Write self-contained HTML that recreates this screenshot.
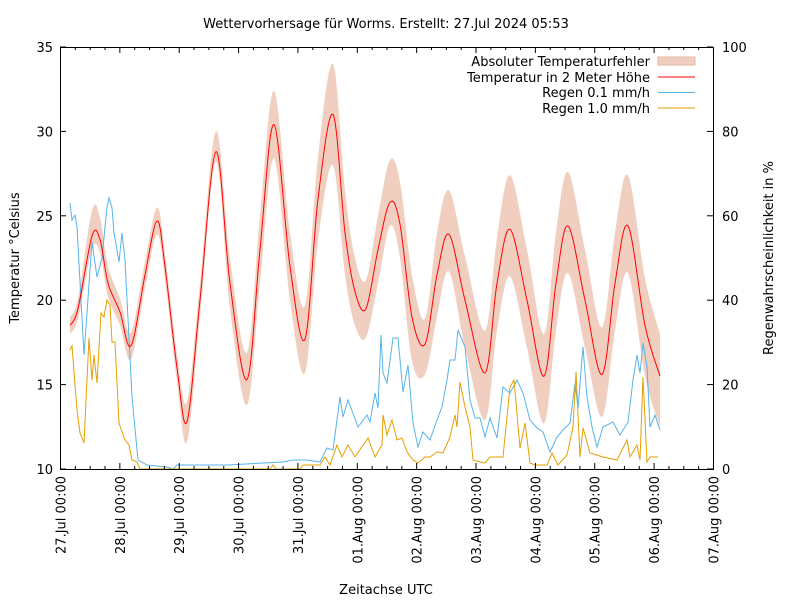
<!DOCTYPE html>
<html><head><meta charset="utf-8"><style>
body{margin:0;background:#fff}
svg{display:block;font-family:"DejaVu Sans","Liberation Sans",sans-serif;font-size:13px}
</style></head><body>
<svg id="s" width="800" height="600" xmlns="http://www.w3.org/2000/svg">
<rect width="800" height="600" fill="#fff"/>
<path id="band" fill="#f0cfc0" stroke="none"/>
<polyline fill="none" stroke="#56b4e9" stroke-width="1" points="70,203 72,220 75,215 77,227 84,355 92,242 97,277 102,258 107,207 109,198 112,208 114,233 119,262 122,233 125,260 132,397 138,460 147,465 167,467 173,469 177,465 227,465 283,462 293,460 307,460 320,462 327,448 333,450 340,397 343,417 348,400 358,427 367,415 370,422 375,393 378,408 381,335 383,373 387,383 393,338 398,338 403,392 408,365 413,423 418,447 423,432 430,440 437,420 442,407 447,380 450,360 455,360 458,330 465,347 470,400 475,418 480,418 485,437 490,418 497,438 503,387 510,393 517,380 523,393 530,420 537,428 543,432 550,452 557,437 563,430 570,423 575,383 578,408 583,347 587,397 592,427 597,447 603,427 613,422 620,435 628,422 633,380 637,355 640,373 643,343 647,367 650,427 655,415 660,430"/>
<polyline fill="none" stroke="#e69f00" stroke-width="1" points="70,350 72,346 77,410 80,433 84,443 89,338 92,380 94,355 97,383 101,313 104,317 107,300 110,305 112,342 115,342 119,423 125,440 129,445 132,460 137,462 140,469 270,469 273,465 276,469 300,469 303,465 320,465 325,457 330,465 337,445 342,457 348,445 355,457 368,438 375,457 382,445 383,415 387,435 392,420 397,440 402,438 407,452 413,460 418,463 425,457 430,457 437,452 443,453 450,437 455,415 457,427 460,382 465,407 470,427 473,460 480,462 485,463 490,457 503,457 510,387 514,380 520,448 525,423 530,463 535,465 547,465 552,453 558,465 567,455 573,427 576,372 580,457 583,428 590,453 603,457 617,460 627,440 630,457 637,445 640,460 643,377 647,462 650,457 658,457"/>
<path id="temp" fill="none" stroke="#ff0000" stroke-width="1"/>
<rect x="60.5" y="47.5" width="653" height="422" fill="none" stroke="#000"/>
<g id="ticks" stroke="#000"></g>
<g id="lbl" fill="#000"></g>
<text x="386" y="28" text-anchor="middle">Wettervorhersage für Worms. Erstellt: 27.Jul 2024 05:53</text>
<text transform="translate(19,258) rotate(-90)" text-anchor="middle">Temperatur °Celsius</text>
<text transform="translate(773,258) rotate(-90)" text-anchor="middle">Regenwahrscheinlichkeit in %</text>
<text x="386" y="594" text-anchor="middle">Zeitachse UTC</text>
<g text-anchor="end">
<text x="650" y="66">Absoluter Temperaturfehler</text>
<text x="650" y="82">Temperatur in 2 Meter Höhe</text>
<text x="650" y="97">Regen 0.1 mm/h</text>
<text x="650" y="113">Regen 1.0 mm/h</text>
</g>
<rect x="658" y="57" width="37" height="8" fill="#f0cfc0" stroke="#e0b8a4"/>
<line x1="658" y1="77" x2="695" y2="77" stroke="#f00"/>
<line x1="658" y1="92.5" x2="695" y2="92.5" stroke="#56b4e9"/>
<line x1="658" y1="108" x2="695" y2="108" stroke="#e69f00"/>
</svg>
<script>
var Y=function(t){return 469-(t-10)*16.88;};
var K=[[70,18.5,.5,.5],[78,19.5,.6,.6],[92,23.8,1.5,.8],[100,23.6,1.3,.8],[108,21,1,.8],[120,19.3,.8,.8],[131,17.3,.8,.8],[145,21.5,.8,.8],[157,24.7,.8,.8],[165,22,.8,.8],[177,16,.8,.8],[187,12.8,1.2,1.2],[200,20,1,1],[216,28.8,1.2,.6],[230,21,1.5,1.5],[247,15.3,1.6,1.5],[260,23,2,2],[274,30.4,2,2],[290,22,2,2],[305,17.7,2,2],[318,26,2.5,2.5],[333,31,3,3],[345,24,2.5,2.5],[355,20.5,2,2],[366,19.5,1.7,1.7],[378,23,2,2],[390,25.8,2.5,1.4],[400,24.5,2.5,2],[412,19,2.5,2.6],[425,17.4,1.5,1.8],[437,21.5,2.5,2.5],[449,23.9,2.6,2.2],[465,20,2.6,2.8],[485,15.7,2.5,2.8],[497,21,2.7,2.8],[510,24.2,3.2,2.8],[527,20,3,2.8],[544,15.5,2.5,2.8],[556,21,3,2.8],[568,24.4,3.2,2.8],[585,20,3,2.8],[602,15.6,2.8,2.5],[615,21,3,2.8],[628,24.4,3,2.8],[645,18.5,2.8,3],[660,15.5,2.5,3]];
function smooth(pts){var d="M"+pts[0][0]+","+pts[0][1];for(var i=0;i<pts.length-1;i++){var p0=pts[i-1]||pts[i],p1=pts[i],p2=pts[i+1],p3=pts[i+2]||p2;d+=" C"+(p1[0]+(p2[0]-p0[0])/6).toFixed(1)+","+(p1[1]+(p2[1]-p0[1])/6).toFixed(1)+" "+(p2[0]-(p3[0]-p1[0])/6).toFixed(1)+","+(p2[1]-(p3[1]-p1[1])/6).toFixed(1)+" "+p2[0]+","+p2[1].toFixed(1);}return d;}
var tp=K.map(function(k){return [k[0],Y(k[1])]});
document.getElementById("temp").setAttribute("d",smooth(tp));
var up=K.map(function(k){return [k[0],Y(k[1]+k[2])]});
var lo=K.map(function(k){return [k[0],Y(k[1]-k[3])]}).reverse();
var dl=smooth(lo).replace(/^M/,"L");
document.getElementById("band").setAttribute("d",smooth(up)+" "+dl+" Z");
var ns="http://www.w3.org/2000/svg",T=document.getElementById("ticks"),L=document.getElementById("lbl");
function ln(a,b,c,d){var e=document.createElementNS(ns,"line");e.setAttribute("x1",a);e.setAttribute("y1",b);e.setAttribute("x2",c);e.setAttribute("y2",d);T.appendChild(e);}
function tx(x,y,s,anc,rot){var e=document.createElementNS(ns,"text");if(rot){e.setAttribute("transform","translate("+x+","+y+") rotate(-90)");}else{e.setAttribute("x",x);e.setAttribute("y",y);}e.setAttribute("text-anchor",anc);e.textContent=s;L.appendChild(e);}
for(var i=0;i<=5;i++){var y=469-i*84.4;ln(60,y,66,y);tx(53,y+5,String(10+i*5),"end");var yr=469-i*84.4;ln(707,yr,713,yr);tx(722,yr+5,String(i*20),"start");}
var days=["27.Jul","28.Jul","29.Jul","30.Jul","31.Jul","01.Aug","02.Aug","03.Aug","04.Aug","05.Aug","06.Aug","07.Aug"];
for(var q=0;q<=44;q++){var x=60.5+q*59.36/4;var len=(q%4==0)?6:3;ln(x,469,x,469-len);ln(x,47,x,47+len);}
for(var d=0;d<12;d++){var x=60.5+d*59.36;tx(x+5,476,days[d]+" 00:00","end",true);}
</script>
</body></html>
